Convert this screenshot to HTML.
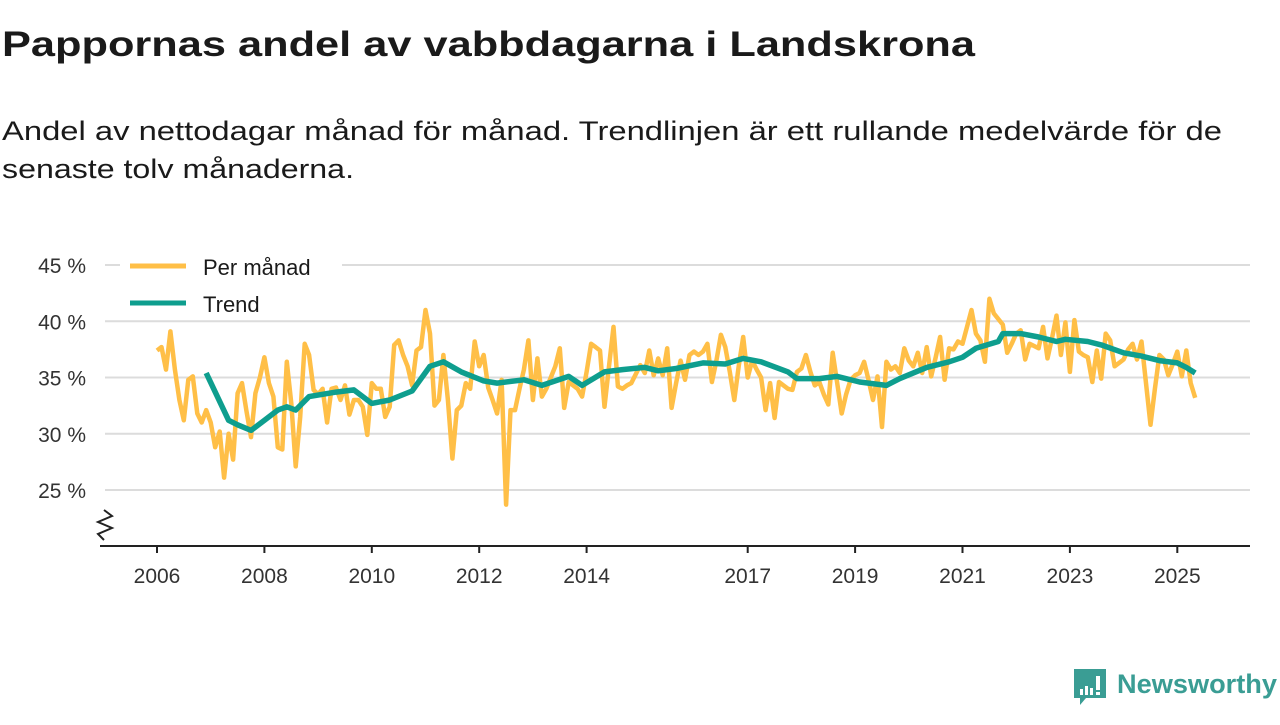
<!DOCTYPE html>
<html><head><meta charset="utf-8"><style>
body{margin:0;background:#fff;width:1280px;height:720px;overflow:hidden;font-family:"Liberation Sans",sans-serif}
</style></head><body>
<svg id="c" width="1280" height="720" xmlns="http://www.w3.org/2000/svg">
<text x="2" y="56" font-size="35" font-weight="bold" fill="#1a1a1a" textLength="973" lengthAdjust="spacingAndGlyphs">Pappornas andel av vabbdagarna i Landskrona</text>
<text x="2" y="140" font-size="27" fill="#1a1a1a" textLength="1220" lengthAdjust="spacingAndGlyphs">Andel av nettodagar månad för månad. Trendlinjen är ett rullande medelvärde för de</text>
<text x="2" y="178" font-size="27" fill="#1a1a1a" textLength="352" lengthAdjust="spacingAndGlyphs">senaste tolv månaderna.</text>
<g id="grid"></g><g id="axes"></g><g id="series"></g>
<g>
<rect x="120" y="250" width="222" height="70" fill="#fff"/>
<line x1="130" y1="266" x2="186" y2="266" stroke="#ffbf47" stroke-width="5"/>
<text x="203" y="275" font-size="22" fill="#1a1a1a">Per månad</text>
<line x1="130" y1="303" x2="186" y2="303" stroke="#0e9e8e" stroke-width="5"/>
<text x="203" y="312" font-size="22" fill="#1a1a1a">Trend</text>
</g>
<g>
<path d="M1074 669h32v29h-20l-6 7v-7h-6z" fill="#3a9d94"/>
<rect x="1080" y="689" width="3" height="6" fill="#fff"/><rect x="1085" y="686" width="3" height="9" fill="#fff"/><rect x="1090" y="688" width="3" height="7" fill="#fff"/><rect x="1096" y="676" width="4" height="14" fill="#fff"/><rect x="1096" y="692" width="4" height="3" fill="#fff"/>
<text x="1117" y="693" font-size="27" font-weight="bold" fill="#3a9d94" textLength="160" lengthAdjust="spacingAndGlyphs">Newsworthy</text>
</g>
</svg>
<script>
const yTicks=[25,30,35,40,45];
const xTickYears=[2006,2008,2010,2012,2014,2017,2019,2021,2023,2025];
const startYear=2006;
const monthly=[
37.4,37.7,35.7,39.1,35.7,33,31.2,34.8,35.1,31.8,31,32.1,
31,28.8,30.2,26.1,30,27.7,33.6,34.5,32,29.7,33.6,35,
36.8,34.5,33.3,28.8,28.6,36.4,32.7,27.1,31.5,38,37,33.9,
33.5,34,31,34,34.1,33,34.3,31.7,33,33,32.4,29.9,
34.5,34,34,31.5,32.4,37.9,38.3,37,36,34.3,37.4,37.7,
41,38.9,32.5,33,37,33,27.8,32.1,32.5,34.5,34,38.2,
36,37,34.1,33,31.8,34.8,23.7,32.1,32.1,34,35.7,38.3,
33,36.7,33.3,34,35,36,37.6,32.3,34.6,34.3,34,33.3,
35.5,38,37.7,37.4,32.4,36,39.5,34.2,34,34.3,34.5,35.3,
36.1,35.4,37.4,35.2,36.7,35.2,37.6,32.3,34.5,36.5,34.8,37,
37.3,37,37.3,38,34.6,36.5,38.8,37.7,35.5,33,36,38.6,
35,36.5,35.7,35,32.1,34.5,31.4,34.6,34.3,34,33.9,35.5,
35.8,37,35.5,34.3,34.6,33.5,32.6,37.2,34.5,31.8,33.5,34.8,
35.2,35.4,36.4,34.8,33,35.1,30.6,36.4,35.7,36,35.4,37.6,
36.5,36,37.2,35.4,37.7,35.1,36.8,38.6,34.8,37.6,37.5,38.2,
38,39.5,41,38.9,38.3,36.4,42,40.7,40.2,39.7,37.2,38,
38.9,39.2,36.6,38,37.8,37.6,39.5,36.7,38.5,40.5,37,39.9,
35.5,40.1,37.3,37,36.8,34.6,37.4,34.9,38.9,38.3,36,36.3,
36.6,37.5,38,36.6,38.2,34.5,30.8,34,37,36.6,35.2,36.2,
37.3,35.1,37.4,34.5,33.2];
const trendMonths=[11,16,18,21,24,27,29,31,34,40,44,48,52,57,61,64,68,73,76,82,86,92,95,100,104,109,112,116,122,127,131,135,141,143,148,152,157,163,166,172,177,180,183,188,189,193,197,201,203,208,211,216,220,224,228,230,232];
const trendValues=[35.4,31.2,30.8,30.3,31.2,32.1,32.4,32.1,33.3,33.7,33.9,32.7,33,33.8,36,36.4,35.5,34.7,34.5,34.8,34.3,35.1,34.3,35.5,35.7,35.9,35.6,35.8,36.3,36.2,36.7,36.4,35.5,34.9,34.9,35.1,34.6,34.3,34.9,35.9,36.4,36.8,37.6,38.2,38.9,38.9,38.6,38.2,38.4,38.2,37.9,37.2,36.9,36.5,36.3,35.9,35.4];
const NS="http://www.w3.org/2000/svg";
const X0=157,PXY=53.7,Y45=265,PXP=11.25,L=100,R=1250,BASE=546;
const xs=t=>X0+(t-startYear)*PXY;
const xm=m=>xs(startYear+m/12);
const ys=v=>Y45+(45-v)*PXP;
function mk(tag,attrs,parent,txt){const e=document.createElementNS(NS,tag);for(const k in attrs)e.setAttribute(k,attrs[k]);if(txt!=null)e.textContent=txt;document.getElementById(parent).appendChild(e);return e;}
yTicks.forEach(v=>{
 const l=mk('line',{x1:105,x2:R,y1:ys(v),y2:ys(v),stroke:'#dcdcdc','stroke-width':2},'grid');
 
 
 const t=mk('text',{x:86,y:ys(v)+8,'font-size':21,fill:'#333','text-anchor':'end'},'grid',v+' %');
 
 
});
const ax=mk('line',{x1:L,x2:R,y1:BASE,y2:BASE,stroke:'#222','stroke-width':2},'axes');


const zz=mk('path',{d:'M104 510 L112 516 L98 522 L112 528 L98 534 L104 540',fill:'none',stroke:'#222','stroke-width':2},'axes');


xTickYears.forEach(y=>{
 const tk=mk('line',{x1:xs(y),x2:xs(y),y1:BASE,y2:BASE+7,stroke:'#222','stroke-width':2},'axes');
 
 
 const t=mk('text',{x:xs(y),y:BASE+37,'font-size':21,fill:'#333','text-anchor':'middle'},'axes',y);
 
 
});
const mp=monthly.map((v,i)=>xm(i).toFixed(1)+','+ys(v).toFixed(1)).join(' ');
const m=mk('polyline',{points:mp,fill:'none',stroke:'#ffbf47','stroke-width':4.5,'stroke-linejoin':'round'},'series');


const tp=trendValues.map((v,i)=>xm(trendMonths[i]).toFixed(1)+','+ys(v).toFixed(1)).join(' ');
const tr=mk('polyline',{points:tp,fill:'none',stroke:'#0e9e8e','stroke-width':5.5,'stroke-linejoin':'round'},'series');


</script>
</body></html>
